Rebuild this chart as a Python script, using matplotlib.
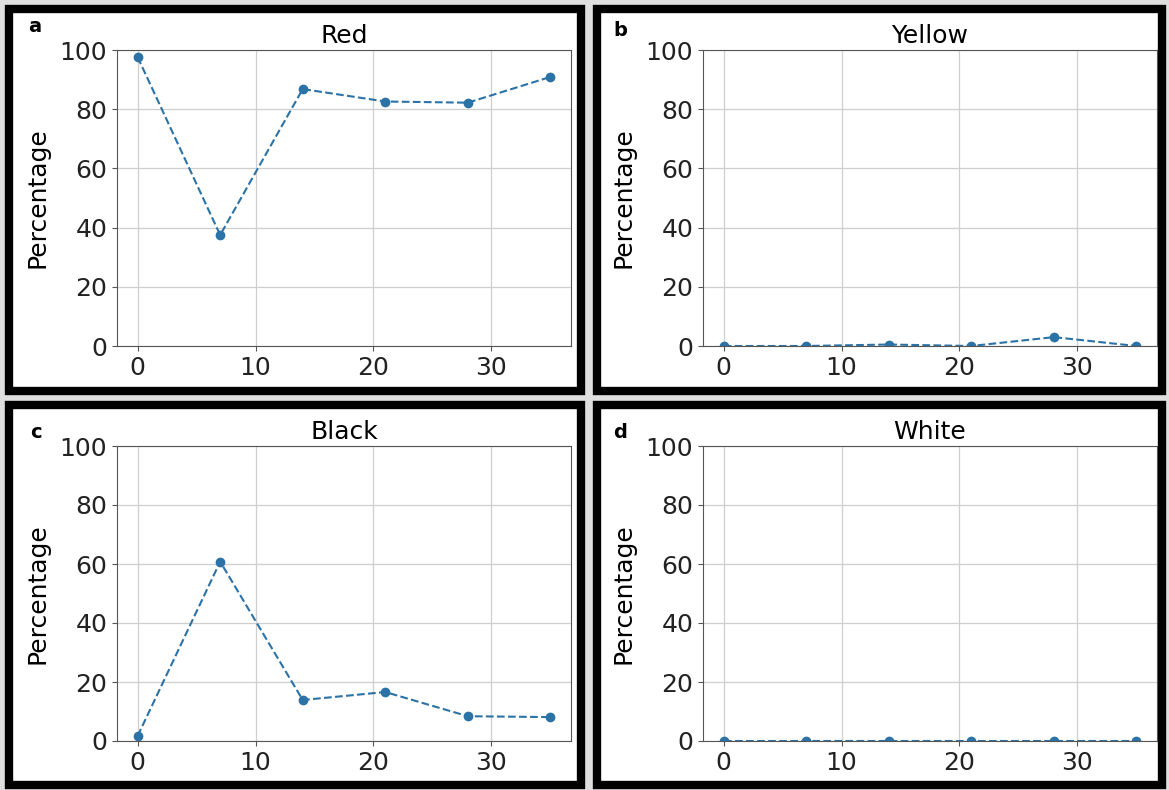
import matplotlib.pyplot as plt
from matplotlib.patches import Rectangle

# Sampling days and percentages per colour
days = [0, 7, 14, 21, 28, 35]
red = [97.6, 37.5, 86.8, 82.6, 82.2, 90.9]
yellow = [0.0, 0.0, 0.5, 0.0, 3.0, 0.0]
black = [1.7, 60.8, 13.9, 16.6, 8.4, 8.1]
white = [0.0, 0.0, 0.0, 0.0, 0.0, 0.0]

titles = ['Red', 'Yellow', 'Black', 'White']
letters = ['a', 'b', 'c', 'd']
series = [red, yellow, black, white]

W, H = 1169, 790
fig = plt.figure(figsize=(W / 100, H / 100), dpi=100, facecolor='#dedede')


def px_rect(x0, y0, x1, y1):
    # pixel box (top-left origin) -> figure fraction [l, b, w, h]
    return [x0 / W, 1 - y1 / H, (x1 - x0) / W, (y1 - y0) / H]


# Thick black frames around every panel
frames = [(9, 9, 581, 391), (597, 9, 1162, 391),
          (9, 405, 581, 785), (597, 405, 1162, 785)]
for x0, y0, x1, y1 in frames:
    l, b, w, h = px_rect(x0, y0, x1, y1)
    fig.patches.append(Rectangle((l, b), w, h, transform=fig.transFigure,
                                 facecolor='white', edgecolor='black',
                                 linewidth=6, zorder=-5))

axes_px = [(117, 50, 571, 346), (703, 50, 1157, 346),
           (117, 446, 571, 741), (703, 446, 1157, 741)]
letter_px = [(35, 27), (620, 31), (36, 432), (620, 432)]

for i in range(4):
    ax = fig.add_axes(px_rect(*axes_px[i]))
    ax.plot(days, series[i], linestyle='--', marker='o', markersize=6,
            color='#2b72a6', linewidth=1.5)
    ax.set_ylim(0, 100)
    ax.set_yticks([0, 20, 40, 60, 80, 100])
    ax.set_xticks([0, 10, 20, 30])
    ax.grid(True, color='#cfcfcf', linewidth=0.9)
    for s in ax.spines.values():
        s.set_color('#555555')
    ax.set_title(titles[i], fontsize=18, pad=5)
    ax.set_ylabel('Percentage', fontsize=18, labelpad=7)
    ax.tick_params(labelsize=18, color='#555555', labelcolor='#222222')
    lx, ly = letter_px[i]
    fig.text(lx / W, 1 - ly / H, letters[i], fontsize=14, fontweight='bold',
             ha='center', va='center')

plt.savefig('out.png', dpi=100, facecolor=fig.get_facecolor())
